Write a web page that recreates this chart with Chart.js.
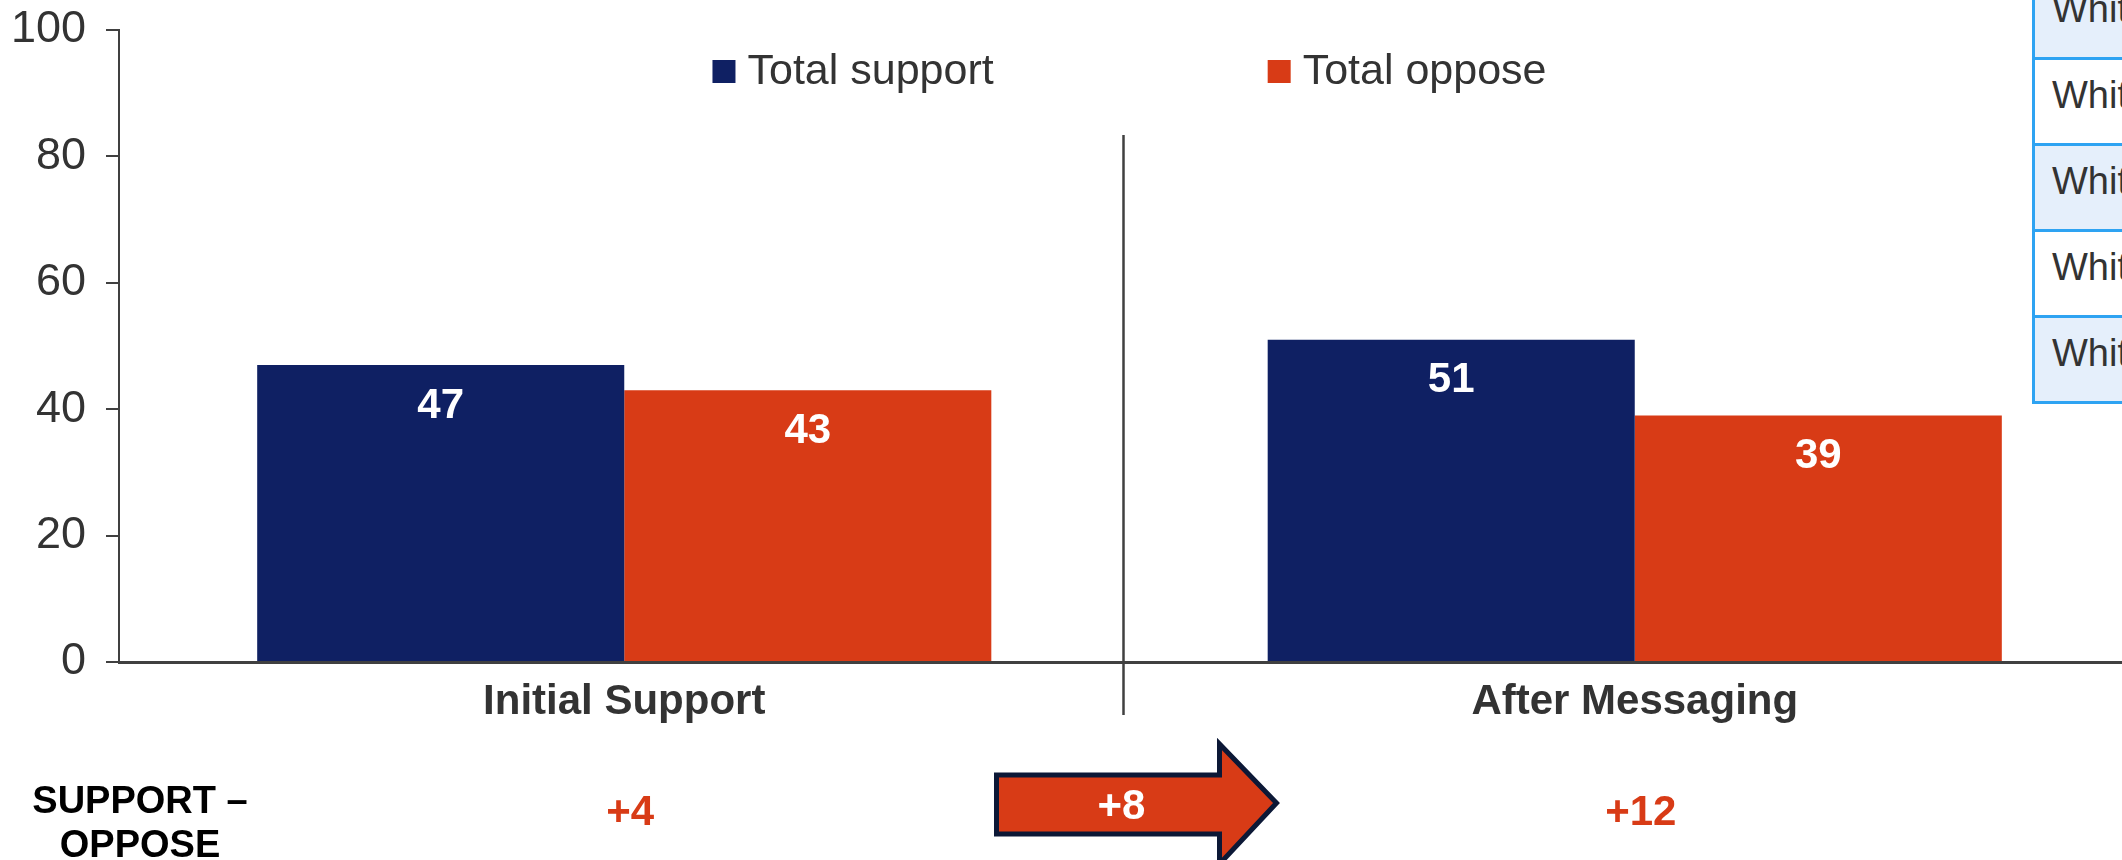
<!DOCTYPE html>
<html>
<head>
<meta charset="utf-8">
<title>Support vs oppose</title>
<script src="https://cdn.jsdelivr.net/npm/chart.js@4.4.1/dist/chart.umd.min.js"></script>
<style>
  html, body { margin: 0; padding: 0; background: #fff; width: 2122px; height: 860px; overflow: hidden; }
  #wrap { position: absolute; left: 0; top: 0; width: 2145px; height: 860px; }
  /* side panel that runs off the right edge */
  #panel { position: absolute; left: 2032px; top: -26px; width: 320px;
           font-family: "Liberation Sans", Arial, sans-serif; font-size: 38px; color: #333; }
  #panel .row { box-sizing: border-box; height: 86px; padding: 14px 0 0 17px;
                border-left: 3px solid #2ea3f2; border-bottom: 3px solid #2ea3f2;
                white-space: nowrap; background: #fff; }
  #panel .row.alt { background: #e5effb; }
</style>
</head>
<body>
<div id="wrap"><canvas id="chart" width="2145" height="860"></canvas></div>
<div id="panel"></div>

<script>
// --- data ---
const categories = ['Initial Support', 'After Messaging'];
const seriesLabels = ['Total support', 'Total oppose'];
const supportValues = [47, 51];
const opposeValues = [43, 39];
const yTicks = [0, 20, 40, 60, 80, 100];
const panelRows = ['White', 'White', 'White', 'White', 'White'];

const NAVY = '#0f2063';
const RED = '#d83b16';
const TEXT = '#333333';
const AXIS = '#404040';
const FONT = '"Liberation Sans", Arial, sans-serif';

Chart.defaults.font.family = FONT;

// side panel rows
const panel = document.getElementById('panel');
panelRows.forEach((txt, i) => {
    const div = document.createElement('div');
    div.className = 'row' + (i % 2 === 0 ? ' alt' : '');
    div.textContent = txt;
    panel.appendChild(div);
});

// net = support - oppose for each stage
const netValues = supportValues.map((v, i) => v - opposeValues[i]);
const fmtSigned = n => (n >= 0 ? '+' : '') + n;

// --- plugins ---
const valueLabels = {
    id: 'valueLabels',
    afterDatasetsDraw(chart) {
        const ctx = chart.ctx;
        ctx.save();
        ctx.font = 'bold 42px ' + FONT;
        ctx.fillStyle = '#ffffff';
        ctx.textAlign = 'center';
        ctx.textBaseline = 'middle';
        chart.data.datasets.forEach((ds, di) => {
            chart.getDatasetMeta(di).data.forEach((bar, i) => {
                ctx.fillText(ds.data[i], bar.x, bar.y + 41);
            });
        });
        ctx.restore();
    }
};

const legendBoxes = {
    id: 'legendBoxes',
    afterDraw(chart) {
        const ctx = chart.ctx;
        const area = chart.chartArea;
        const mid = (area.left + area.right) / 2;
        const gap = 274;
        ctx.save();
        ctx.font = '43px ' + FONT;
        ctx.textBaseline = 'middle';
        const items = chart.data.datasets.map(ds => ({
            label: ds.label, color: ds.backgroundColor,
            w: 23 + 12 + ctx.measureText(ds.label).width
        }));
        const total = items.reduce((s, it) => s + it.w, 0) + gap * (items.length - 1);
        let x = mid - total / 2;
        items.forEach(it => {
            ctx.fillStyle = it.color;
            ctx.fillRect(x, 60, 23, 23);
            ctx.fillStyle = TEXT;
            ctx.fillText(it.label, x + 35, 72);
            x += it.w + gap;
        });
        ctx.restore();
    }
};

const netRow = {
    id: 'netRow',
    afterDraw(chart) {
        const ctx = chart.ctx;
        const xs = chart.scales.x;
        const c0 = xs.getPixelForValue(0);
        const c1 = xs.getPixelForValue(1);
        const sep = (c0 + c1) / 2 - 6;
        ctx.save();

        // divider between the two stages
        ctx.strokeStyle = AXIS;
        ctx.lineWidth = 2.5;
        ctx.beginPath();
        ctx.moveTo(sep, 135);
        ctx.lineTo(sep, 715);
        ctx.stroke();

        // row title
        ctx.textAlign = 'center';
        ctx.textBaseline = 'middle';
        ctx.fillStyle = '#000';
        ctx.font = 'bold 38px ' + FONT;
        ctx.fillText('SUPPORT \u2013', 140, 803);
        ctx.fillText('OPPOSE', 140, 847);

        // net values
        ctx.fillStyle = RED;
        ctx.font = 'bold 42px ' + FONT;
        ctx.fillText(fmtSigned(netValues[0]), c0 + 6, 813);
        ctx.fillText(fmtSigned(netValues[1]), c1 + 6, 813);

        // change arrow
        ctx.beginPath();
        ctx.moveTo(sep - 127, 775);
        ctx.lineTo(sep + 96, 775);
        ctx.lineTo(sep + 96, 744);
        ctx.lineTo(sep + 153, 803);
        ctx.lineTo(sep + 96, 864);
        ctx.lineTo(sep + 96, 834);
        ctx.lineTo(sep - 127, 834);
        ctx.closePath();
        ctx.fillStyle = RED;
        ctx.fill();
        ctx.strokeStyle = '#0c1836';
        ctx.lineWidth = 5;
        ctx.lineJoin = 'miter';
        ctx.stroke();

        ctx.fillStyle = '#fff';
        ctx.font = 'bold 42px ' + FONT;
        ctx.fillText(fmtSigned(netValues[1] - netValues[0]), sep - 2, 807);
        ctx.restore();
    }
};

// --- chart ---
new Chart(document.getElementById('chart'), {
    type: 'bar',
    data: {
        labels: categories,
        datasets: [
            { label: seriesLabels[0], data: supportValues, backgroundColor: NAVY },
            { label: seriesLabels[1], data: opposeValues, backgroundColor: RED }
        ]
    },
    options: {
        responsive: false,
        animation: false,
        events: [],
        layout: { padding: { left: 0, top: 30, right: 5, bottom: 0 } },
        datasets: { bar: { categoryPercentage: 0.7265, barPercentage: 1.0, borderWidth: 0 } },
        plugins: { legend: { display: false }, tooltip: { enabled: false } },
        scales: {
            x: {
                grid: { display: false },
                border: { display: true, color: AXIS, width: 3 },
                ticks: { color: TEXT, padding: 7, font: { size: 42, weight: 'bold' } },
                afterFit(scale) { scale.height = 198; }
            },
            y: {
                min: 0, max: 100,
                afterBuildTicks(scale) { scale.ticks = yTicks.map(v => ({ value: v })); },
                grid: { drawOnChartArea: false, drawTicks: true, tickLength: 13, color: AXIS, lineWidth: 2 },
                border: { display: true, color: AXIS, width: 2 },
                // small lineHeight keeps the top label from pushing the plot down
                ticks: { color: TEXT, padding: 20, font: { size: 45, lineHeight: 0.4 } },
                afterFit(scale) { scale.width = 119; }
            }
        }
    },
    plugins: [valueLabels, legendBoxes, netRow]
});
</script>
</body>
</html>
